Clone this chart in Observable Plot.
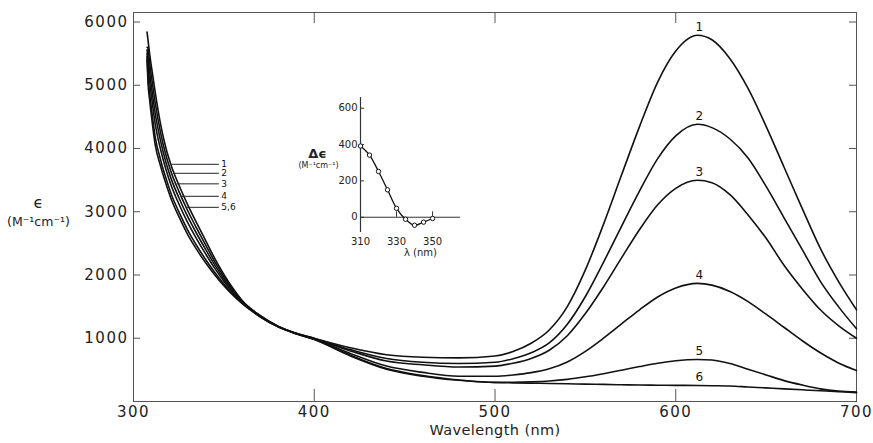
<!DOCTYPE html>
<html>
<head>
<meta charset="utf-8">
<script src="https://cdn.jsdelivr.net/npm/d3@7"></script>
<script src="https://cdn.jsdelivr.net/npm/@observablehq/plot@0.6"></script>
<style>
  body { margin: 0; background: #fff; }
  #wrap { position: relative; width: 873px; height: 443px; background: #fff; }
  #inset { position: absolute; left: 280px; top: 90px; }
  .mainchart g[aria-label="x-axis tick label"] text,
  .mainchart g[aria-label="y-axis tick label"] text { letter-spacing: 1.5px; }
  .mainchart .xtitle text { letter-spacing: 0.4px; }
</style>
</head>
<body>
<div id="wrap"></div>
<script>
// ---------- data ----------
const wavelengths = [307.5, 308, 309, 310, 312, 315, 318, 321, 325, 330, 335, 340, 345, 350, 355,
  360, 370, 380, 390, 400, 420, 440, 460, 480, 500, 510, 520, 530, 540, 550,
  560, 570, 580, 590, 600, 612, 620, 630, 640, 650, 660, 670, 680, 690, 700];

const curve1 = [5840, 5720, 5480, 5280, 4890, 4380, 4000, 3720, 3430, 3110, 2820, 2540, 2260, 2010, 1790,
  1600, 1360, 1190, 1080, 1000, 850, 740, 700, 690, 720, 790, 920, 1130, 1500, 2080,
  2800, 3580, 4350, 5050, 5540, 5790, 5720, 5420, 4950, 4350, 3700, 3050, 2420, 1900, 1450];
const curve2 = [5600, 5586, 5334, 5124, 4724, 4248, 3888, 3614, 3330, 3016, 2736, 2470, 2208, 1974, 1768,
  1590, 1356, 1188, 1078, 996, 820, 680, 620, 600, 620, 676, 770, 925, 1220, 1660,
  2200, 2770, 3330, 3840, 4200, 4383, 4330, 4150, 3850, 3400, 2900, 2400, 1900, 1500, 1150];
const curve3 = [5560, 5452, 5188, 4968, 4558, 4116, 3776, 3508, 3230, 2922, 2652, 2400, 2156, 1938, 1746,
  1580, 1352, 1186, 1076, 992, 800, 640, 580, 545, 560, 604, 680, 810, 1040, 1390,
  1810, 2270, 2720, 3110, 3370, 3497, 3460, 3270, 2950, 2580, 2150, 1780, 1450, 1200, 1000];
const curve4 = [5500, 5318, 5042, 4812, 4392, 3984, 3664, 3402, 3130, 2828, 2568, 2330, 2104, 1902, 1724,
  1570, 1348, 1184, 1074, 988, 760, 560, 460, 400, 399, 420, 456, 517, 625, 793,
  1001, 1227, 1450, 1653, 1795, 1867, 1840, 1740, 1580, 1380, 1170, 960, 770, 610, 490];
const curve5 = [5450, 5150, 4860, 4617, 4185, 3819, 3524, 3270, 3005, 2710, 2463, 2242, 2039, 1857, 1696,
  1557, 1343, 1181, 1071, 983, 730, 520, 410, 340, 302, 305, 312, 325, 350, 390,
  440, 495, 552, 605, 645, 665, 655, 600, 510, 420, 330, 260, 200, 165, 148];
const curve6 = [5400, 5050, 4750, 4500, 4060, 3720, 3440, 3190, 2930, 2640, 2400, 2190, 2000, 1830, 1680,
  1550, 1340, 1180, 1070, 980, 720, 510, 400, 335, 300, 295, 290, 285, 280, 275,
  270, 265, 260, 258, 255, 253, 250, 245, 230, 215, 200, 185, 170, 155, 140];

const curveNames = ["1", "2", "3", "4", "5", "6"];
const peakWavelength = 613;
const peakValues = [5790, 4383, 3497, 1867, 665, 253];

const sideLabels = ["1", "2", "3", "4", "5,6"];
const sideLabelValues = [3750, 3608, 3441, 3244, 3070];
const sideLabelStart = [321.4, 322.3, 324.1, 326.9, 329.7];
const sideLabelEnd = 347.5;

const xTicks = [300, 400, 500, 600, 700];
const yTicks = [1000, 2000, 3000, 4000, 5000, 6000];

// inset (circular dichroism)
const insetWavelengths = [310, 315, 320, 325, 330, 335, 340, 345, 350];
const insetDelta = [392, 342, 252, 151, 49, -11, -44, -27, -7];
const insetYTicks = [0, 200, 400, 600];
const insetXTicks = [310, 330, 350];
const insetTickMarks = [330, 350];

// ---------- build tables ----------
const series = [curve1, curve2, curve3, curve4, curve5, curve6];
const rows = series.flatMap((vals, i) =>
  wavelengths.map((w, j) => ({w, v: vals[j], c: curveNames[i]})));
const peakRows = peakValues.map((v, i) => ({w: peakWavelength, v, t: curveNames[i]}));
const sideRows = sideLabels.map((t, i) => ({t, v: sideLabelValues[i], x1: sideLabelStart[i], x2: sideLabelEnd}));
const insetRows = insetWavelengths.map((w, i) => ({w, d: insetDelta[i]}));

const axisColor = "#555";
const font = "DejaVu Sans";

const main = Plot.plot({
  className: "mainchart",
  width: 873,
  height: 443,
  marginLeft: 133,
  marginRight: 17,
  marginTop: 12,
  marginBottom: 42,
  x: {domain: [300, 700], label: null},
  y: {domain: [0, 6150], label: null},
  style: {fontFamily: font, fontSize: "15px", color: "#222", background: "white"},
  marks: [
    Plot.frame({stroke: axisColor, strokeWidth: 1}),
    Plot.axisX(xTicks, {anchor: "bottom", tickSize: -12, tickFormat: () => "", stroke: axisColor}),
    Plot.axisX(xTicks.slice(1, 4), {anchor: "top", tickSize: -10, tickFormat: () => "", stroke: axisColor}),
    Plot.axisX(xTicks, {anchor: "bottom", tickSize: 0, tickPadding: 5, tickFormat: d => String(d), fontSize: 15}),
    Plot.axisY(yTicks, {anchor: "left", tickSize: -7, tickFormat: () => "", stroke: axisColor}),
    Plot.axisY(yTicks, {anchor: "right", tickSize: -8, tickFormat: () => "", stroke: axisColor}),
    Plot.axisY(yTicks, {anchor: "left", tickSize: 0, tickPadding: 5, tickFormat: d => String(d), fontSize: 15}),
    Plot.line(rows, {x: "w", y: "v", z: "c", stroke: "#111", strokeWidth: 1.6, curve: "monotone-x"}),
    Plot.text(peakRows, {x: "w", y: "v", text: "t", dy: -8, fontSize: 12, fill: "#111"}),
    Plot.ruleY(sideRows, {y: "v", x1: "x1", x2: "x2", stroke: "#222", strokeWidth: 1}),
    Plot.text(sideRows, {x: "x2", y: "v", text: "t", textAnchor: "start", dx: 2, fontSize: 9, fill: "#111"}),
    Plot.text(["Wavelength (nm)"], {className: "xtitle", frameAnchor: "bottom", textAnchor: "middle", dy: 33, fontSize: 14.5, fill: "#222"}),
    Plot.text(["ϵ"], {frameAnchor: "left", textAnchor: "middle", dx: -95, dy: -4, fontSize: 16, fill: "#222"}),
    Plot.text(["(M⁻¹cm⁻¹)"], {frameAnchor: "left", textAnchor: "middle", dx: -95, dy: 15, fontSize: 12.5, fill: "#222"})
  ]
});

const inset = Plot.plot({
  width: 195,
  height: 190,
  marginLeft: 80,
  marginRight: 15,
  marginTop: 7,
  marginBottom: 48,
  x: {domain: [310, 365.5], label: null},
  y: {domain: [-84, 659], label: null},
  style: {fontFamily: font, fontSize: "10px", color: "#222", background: "transparent"},
  marks: [
    Plot.ruleX([310], {stroke: "#333", strokeWidth: 1.2}),
    Plot.ruleY([0], {stroke: "#333", strokeWidth: 1}),
    Plot.ruleX(insetTickMarks, {y1: 0, y2: 30, stroke: "#333"}),
    Plot.axisY(insetYTicks, {anchor: "left", tickSize: -4, tickFormat: () => "", stroke: "#333"}),
    Plot.axisY(insetYTicks, {anchor: "left", tickSize: 0, tickPadding: 3, tickFormat: d => String(d), fontSize: 10}),
    Plot.axisX(insetXTicks, {anchor: "bottom", tickSize: 0, tickPadding: 5, tickFormat: d => String(d), fontSize: 10}),
    Plot.line(insetRows, {x: "w", y: "d", stroke: "#111", strokeWidth: 1.3, curve: "catmull-rom"}),
    Plot.dot(insetRows, {x: "w", y: "d", r: 2.2, fill: "white", stroke: "#111", strokeWidth: 1}),
    Plot.text(["Δϵ"], {frameAnchor: "top-left", textAnchor: "middle", dx: -43, dy: 51, fontSize: 13, fontWeight: "bold", fill: "#222"}),
    Plot.text(["(M⁻¹cm⁻¹)"], {frameAnchor: "top-left", textAnchor: "middle", dx: -42, dy: 65, fontSize: 8, fill: "#222"}),
    Plot.text(["λ (nm)"], {frameAnchor: "bottom-left", textAnchor: "middle", dx: 60, dy: 23, fontSize: 10, fill: "#222"})
  ]
});
inset.id = "inset";

const wrap = document.getElementById("wrap");
wrap.appendChild(main);
wrap.appendChild(inset);
</script>
</body>
</html>
